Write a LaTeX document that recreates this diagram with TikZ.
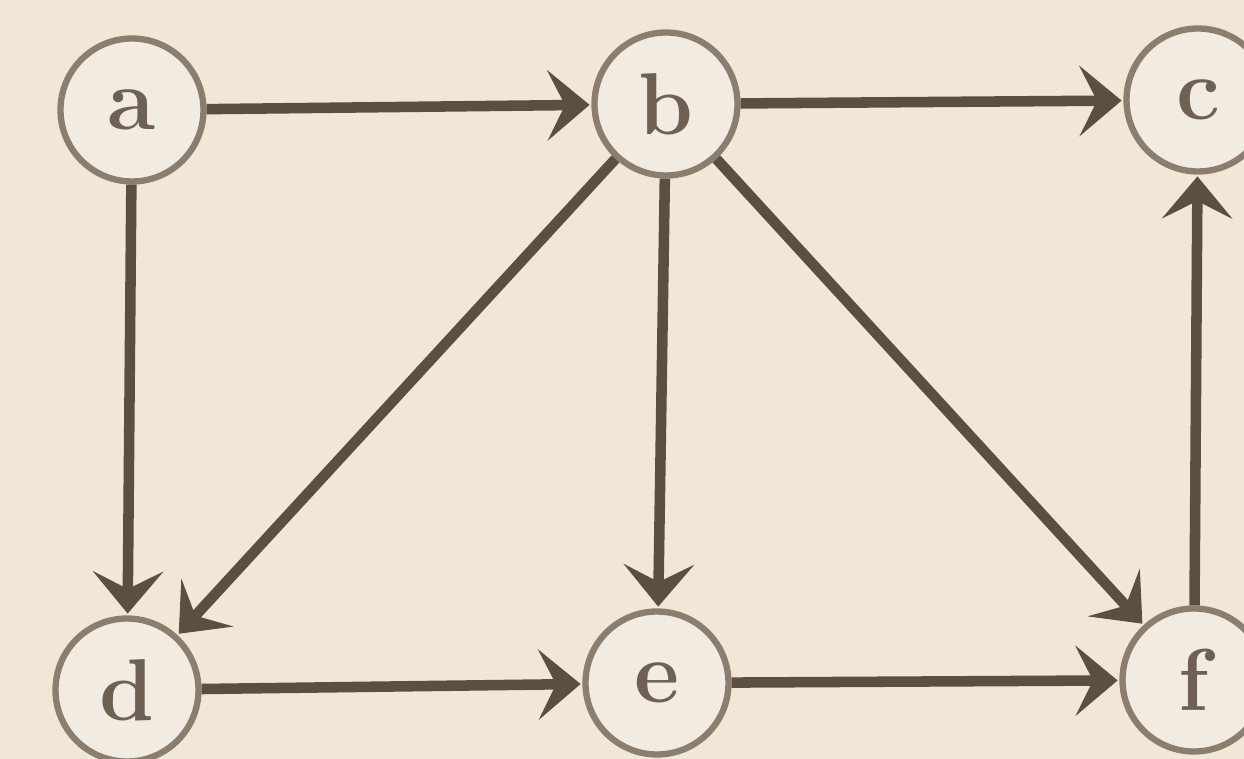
\documentclass[tikz,border=0pt]{standalone}
\usetikzlibrary{arrows.meta}
\definecolor{bg}{RGB}{241,231,215}
\definecolor{nodefill}{RGB}{241,235,226}
\definecolor{nodeline}{RGB}{140,126,110}
\definecolor{edgecol}{RGB}{92,78,64}
\definecolor{txt}{RGB}{110,97,83}
\begin{document}
\begin{tikzpicture}[x=0.02cm,y=-0.02cm,
  vertex/.style={circle,draw=nodeline,fill=nodefill,line width=3.6pt,minimum size=2.86cm,inner sep=0pt,text=txt,font=\fontsize{50}{56}\selectfont\bfseries},
  edgearrow/.style={draw=edgecol,line width=6pt,-{Stealth[length=24pt,width=40pt,inset=10pt]},shorten >=1pt}]
\fill[bg] (0,0) rectangle (1244,759);
\useasboundingbox (0,0) rectangle (1244,759);
\node[vertex] (a) at (132,110) {a};
\node[vertex] (b) at (666,104) {b};
\node[vertex] (c) at (1198,100) {c};
\node[vertex] (d) at (127,690) {d};
\node[vertex] (e) at (657,683) {e};
\node[vertex] (f) at (1194,680) {f};
\draw[edgearrow] (a) -- (b);
\draw[edgearrow] (b) -- (c);
\draw[edgearrow] (a) -- (d);
\draw[edgearrow] (b) -- (d);
\draw[edgearrow] (b) -- (e);
\draw[edgearrow] (b) -- (f);
\draw[edgearrow] (d) -- (e);
\draw[edgearrow] (e) -- (f);
\draw[edgearrow] (f) -- (c);
\end{tikzpicture}
\end{document}
